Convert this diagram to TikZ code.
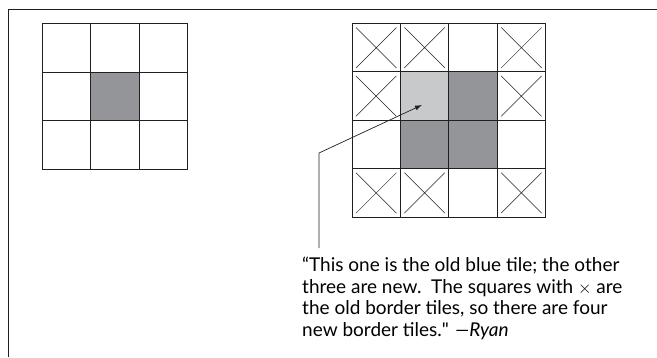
\documentclass[tikz,border=0pt]{standalone}
\usepackage{fontspec}
\setmainfont{Lato}
\usepackage{tikz}
\usetikzlibrary{arrows.meta,positioning}
\usepackage{xcolor}
\definecolor{tileDark}{HTML}{939598}
\definecolor{tileLight}{HTML}{C8C9CB}
\definecolor{gridLine}{HTML}{231F20}

\begin{document}
\begin{tikzpicture}[x=1pt,y=-1pt,
    cell/.style={draw=gridLine,line width=0.9pt},
    cross/.style={draw=gridLine,line width=0.5pt},
    pointer/.style={draw=gridLine,line width=0.7pt,-{Latex[length=7pt,width=5pt]}}]
  \useasboundingbox[fill=white] (0,0) rectangle (657,357);
  % open frame
  \draw[gridLine,line width=0.9pt] (8,357) -- (8,9) -- (657,9);

  % old pattern, 3 by 3
  \fill[tileDark] (90.5,72) rectangle ++(48.5,48.5);
  \foreach \c in {0,1,2}
    \foreach \r in {0,1,2}
      \draw[cell] (42+\c*48.5,23.5+\r*48.5) rectangle ++(48.5,48.5);

  % new pattern, 4 by 4
  \fill[tileDark] (448.8,71.9) rectangle ++(48.4,48.4);
  \fill[tileDark] (400.4,120.3) rectangle ++(96.8,48.4);
  \fill[tileLight] (400.4,71.9) rectangle ++(48.4,48.4);
  \foreach \c in {0,...,3}
    \foreach \r in {0,...,3}
      \draw[cell] (352+\c*48.4,23.5+\r*48.4) rectangle ++(48.4,48.4);
  \foreach \c/\r in {0/0,1/0,3/0,0/1,3/1,0/3,1/3,3/3}
    \draw[cross] (356+\c*48.4,27.5+\r*48.4) -- ++(40.4,40.4)
                 (356+\c*48.4,67.9+\r*48.4) -- ++(40.4,-40.4);

  \node[anchor=north west,inner sep=0pt,align=left,
        font=\fontsize{19}{21.6}\selectfont] (quote) at (302,257)
    {``This one is the old blue tile; the other\\
     three are new.\ \ The squares with $\times$ are\\
     the old border tiles, so there are four\\
     new border tiles.\textquotedbl{} \textit{---Ryan}};
  \coordinate (bend) at (319,153);
  \coordinate (tip) at (422,105);
  \draw[pointer] (319,248) -- (bend) -- (tip);
\end{tikzpicture}
\end{document}
